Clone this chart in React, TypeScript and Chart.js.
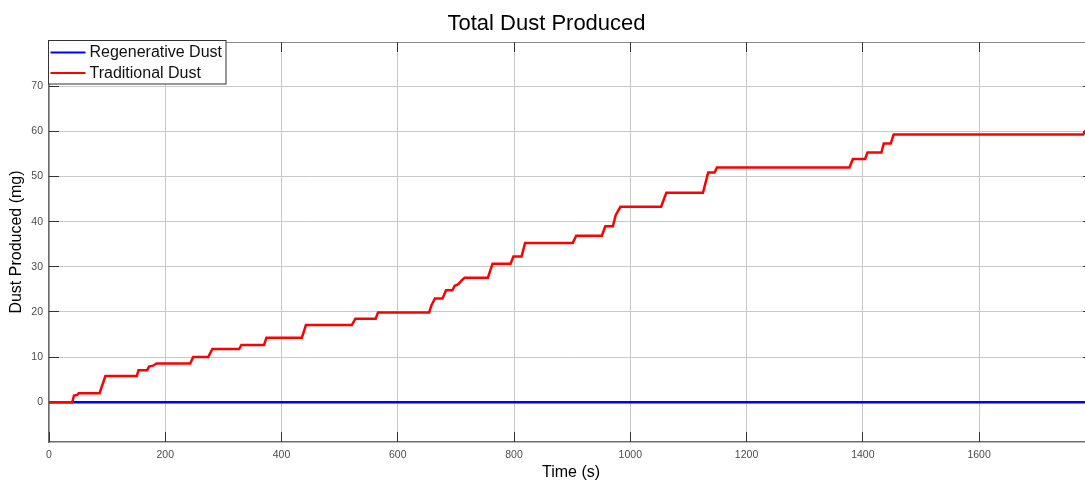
import { useEffect, useRef } from "react";
import { Chart, registerables } from "chart.js";

Chart.register(...registerables);

// Cumulative dust from the traditional process (time in s, dust in mg)
const traditionalTime = [
  0, 40, 43, 48, 51, 87, 97, 151, 154, 169, 172, 179, 185, 243, 248, 274, 281,
  327, 331, 370, 374, 435, 442, 521, 527, 562, 566, 654, 658, 664, 677, 683,
  694, 698, 702, 706, 710, 715, 755, 763, 794, 799, 813, 819, 901, 907, 951,
  957, 970, 975, 983, 1053, 1062, 1125, 1134, 1145, 1149, 1377, 1383, 1404,
  1408, 1432, 1436, 1448, 1453, 1779, 1786,
];
const traditionalDust = [
  0, 0, 1.5, 1.6, 2.0, 2.0, 5.8, 5.8, 7.1, 7.1, 7.9, 8.1, 8.6, 8.6, 10.0, 10.0,
  11.8, 11.8, 12.7, 12.7, 14.3, 14.3, 17.1, 17.1, 18.5, 18.5, 19.9, 19.9, 21.5,
  23.0, 23.0, 24.8, 24.8, 25.8, 26.0, 26.4, 27.0, 27.6, 27.6, 30.7, 30.7, 32.3,
  32.3, 35.3, 35.3, 36.9, 36.9, 39.0, 39.0, 41.5, 43.3, 43.3, 46.4, 46.4, 50.9,
  50.9, 52.0, 52.0, 53.9, 53.9, 55.3, 55.3, 57.3, 57.3, 59.3, 59.3, 60.7,
];

// Regenerative process produces no dust
const regenerativeTime = [0, 1796];
const regenerativeDust = [0, 0];

const seriesLabels = ["Regenerative Dust", "Traditional Dust"];
const seriesColors = ["#0000ff", "#ff0000"];

// Axis tick positions
const timeTicks = [0, 200, 400, 600, 800, 1000, 1200, 1400, 1600];
const dustTicks = [0, 10, 20, 30, 40, 50, 60, 70];

const FONT = '"Liberation Sans", Arial, Helvetica, sans-serif';

const toPoints = (xs: number[], ys: number[]) =>
  xs.map((x, i) => ({ x, y: ys[i] }));

const align = (p: number) => Math.round(p - 0.5) + 0.5;

// Box border, inward tick marks and an in-axes legend
const axesBoxPlugin = {
  id: "axesBox",
  beforeDatasetsDraw(chart: any) {
    const { ctx, chartArea: a, scales } = chart;
    ctx.save();
    ctx.lineWidth = 1;
    ctx.strokeStyle = "#8c8c8c";
    ctx.beginPath();
    ctx.moveTo(a.left, align(a.top));
    ctx.lineTo(a.right, align(a.top));
    ctx.moveTo(align(a.right), a.top);
    ctx.lineTo(align(a.right), a.bottom);
    ctx.stroke();

    ctx.strokeStyle = "#333333";
    ctx.beginPath();
    scales.x.ticks.forEach((t: any) => {
      const px = align(scales.x.getPixelForValue(t.value));
      ctx.moveTo(px, a.bottom);
      ctx.lineTo(px, a.bottom - 10);
      ctx.moveTo(px, a.top);
      ctx.lineTo(px, a.top + 10);
    });
    scales.y.ticks.forEach((t: any) => {
      const py = align(scales.y.getPixelForValue(t.value));
      ctx.moveTo(a.left, py);
      ctx.lineTo(a.left + 10, py);
      ctx.moveTo(a.right, py);
      ctx.lineTo(a.right - 10, py);
    });
    ctx.stroke();
    ctx.restore();
  },
  afterDraw(chart: any) {
    const { ctx, chartArea: a } = chart;
    const x0 = a.left - 0.5;
    const y0 = a.top - 1.5;
    const w = 177.5;
    const h = 43.5;
    ctx.save();
    ctx.fillStyle = "#ffffff";
    ctx.fillRect(x0, y0, w, h);
    ctx.strokeStyle = "#333333";
    ctx.lineWidth = 1;
    ctx.strokeRect(x0, y0, w, h);
    ctx.font = `16px ${FONT}`;
    ctx.textBaseline = "middle";
    ctx.textAlign = "left";
    chart.data.datasets.forEach((ds: any, i: number) => {
      const cy = y0 + 12 + i * 20.5;
      ctx.strokeStyle = ds.borderColor;
      ctx.lineWidth = 2;
      ctx.beginPath();
      ctx.moveTo(x0 + 2, cy);
      ctx.lineTo(x0 + 37, cy);
      ctx.stroke();
      ctx.fillStyle = "#111111";
      ctx.fillText(ds.label, x0 + 41, cy + 0.5);
    });
    ctx.restore();
  },
};

export default function App() {
  const canvasRef = useRef<HTMLCanvasElement | null>(null);

  useEffect(() => {
    const canvas = canvasRef.current;
    if (!canvas) return;
    Chart.defaults.font.family = FONT;

    const chart = new Chart(canvas, {
      type: "line",
      data: {
        datasets: [
          {
            label: seriesLabels[0],
            data: toPoints(regenerativeTime, regenerativeDust),
            borderColor: seriesColors[0],
            backgroundColor: seriesColors[0],
            borderWidth: 2.5,
            pointRadius: 0,
            tension: 0,
            order: 1,
          },
          {
            label: seriesLabels[1],
            data: toPoints(traditionalTime, traditionalDust),
            borderColor: seriesColors[1],
            backgroundColor: seriesColors[1],
            borderWidth: 2.5,
            pointRadius: 0,
            tension: 0,
            order: 0,
          },
        ],
      },
      options: {
        animation: false,
        responsive: false,
        events: [],
        layout: { padding: { left: 0, right: 48, top: 0, bottom: 0 } },
        plugins: {
          legend: { display: false },
          tooltip: { enabled: false },
          title: {
            display: true,
            text: "Total Dust Produced",
            color: "#000000",
            font: { size: 22, weight: "normal", family: FONT },
            padding: { top: 11, bottom: 4.6 },
          },
        },
        scales: {
          x: {
            type: "linear",
            min: 0,
            max: 1796,
            afterBuildTicks: (s: any) => {
              s.ticks = timeTicks.map((value) => ({ value }));
            },
            afterFit: (s: any) => {
              s.height = 42;
            },
            ticks: {
              autoSkip: false,
              maxRotation: 0,
              color: "#4d4d4d",
              font: { size: 10.5 },
              padding: 7,
              callback: (v: any) => String(v),
            },
            grid: { color: "#c8c8c8", lineWidth: 1, drawTicks: false },
            border: { display: true, color: "#6e6e6e", width: 1.5 },
            title: {
              display: true,
              text: "Time (s)",
              color: "#000000",
              font: { size: 16 },
              padding: { top: 0, bottom: 1.4 },
            },
          },
          y: {
            type: "linear",
            min: -8.8,
            max: 79.8,
            afterBuildTicks: (s: any) => {
              s.ticks = dustTicks.map((value) => ({ value }));
            },
            afterFit: (s: any) => {
              s.width = 49;
            },
            ticks: {
              autoSkip: false,
              color: "#4d4d4d",
              font: { size: 10.5 },
              padding: 6,
              callback: (v: any) => String(v),
            },
            grid: { color: "#c8c8c8", lineWidth: 1, drawTicks: false },
            border: { display: true, color: "#6e6e6e", width: 1.5 },
            title: {
              display: true,
              text: "Dust Produced (mg)",
              color: "#000000",
              font: { size: 16 },
              padding: { top: 7, bottom: 0 },
            },
          },
        },
      },
      plugins: [axesBoxPlugin],
    } as any);

    return () => chart.destroy();
  }, []);

  return (
    <div
      style={{
        position: "fixed",
        left: 0,
        top: 0,
        width: 1085,
        height: 480,
        overflow: "hidden",
        background: "#ffffff",
      }}
    >
      <canvas
        ref={canvasRef}
        width={1141}
        height={484}
        style={{ display: "block", width: 1141, height: 484 }}
      />
    </div>
  );
}
